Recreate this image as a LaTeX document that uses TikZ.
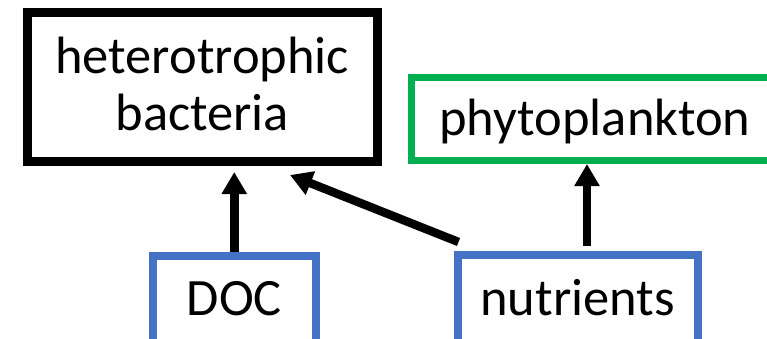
\documentclass[tikz,border=0pt]{standalone}
\usepackage{fontspec}
\setmainfont{Carlito}
\usetikzlibrary{arrows.meta}
\definecolor{boxgreen}{HTML}{00B050}
\definecolor{boxblue}{HTML}{4472C4}
\tikzset{
  box/.style={draw, rectangle, inner sep=0pt, font=\fontsize{52.5}{57}\selectfont, align=center},
  conn/.style={line width=8.5pt, -{Triangle[width=24pt,length=22pt]}},
}
\begin{document}
\begin{tikzpicture}[x=1pt,y=-1pt]
\useasboundingbox (0,0) rectangle (767,338);
\clip (0,0) rectangle (767,338);
\node[box, line width=9pt, minimum width=349.5pt, minimum height=149.5pt,
      text height=96.5pt, text depth=10pt] (bact) at (202.25,86.75) {heterotrophic\\bacteria};
\node[box, draw=boxgreen, line width=7pt, minimum width=368pt, minimum height=83.5pt,
      text height=36pt, text depth=3.5pt] (phyto) at (595,118.75) {phytoplankton};
\node[box, draw=boxblue, line width=8pt, minimum width=162.5pt, minimum height=93pt,
      text height=35pt, text depth=10pt] (doc) at (234.25,302.5) {DOC};
\node[box, draw=boxblue, line width=8pt, minimum width=240pt, minimum height=93pt,
      text height=36pt, text depth=9pt] (nut) at (577.5,301.5) {nutrients};
\coordinate (dtail) at ([shift={(5,-9)}]nut.north west);
\coordinate (dtip) at (290,175);
\coordinate (ptail) at (587,246);
\draw[conn, shorten >=6pt] (doc.north) -- (doc.north |- bact.south);
\draw[conn] (dtail) -- (dtip);
\draw[conn] (ptail) -- (ptail |- phyto.south);
\end{tikzpicture}
\end{document}
